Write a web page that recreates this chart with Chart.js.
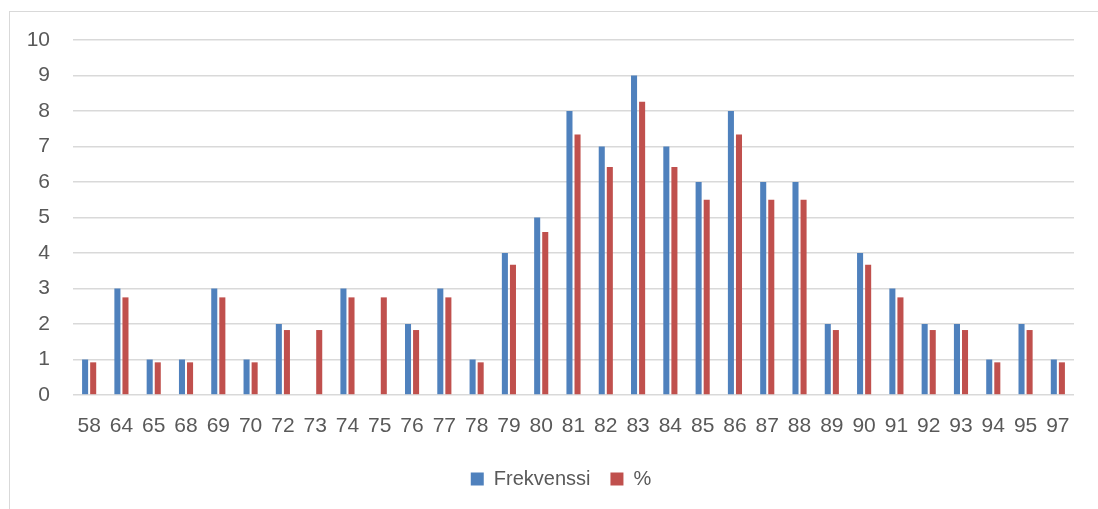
<!DOCTYPE html>
<html>
<head>
<meta charset="utf-8">
<script src="https://cdn.jsdelivr.net/npm/chart.js@4"></script>
<style>
  body { margin: 0; background: #fff; }
  #wrap { position: relative; width: 1098px; height: 509px; overflow: hidden; }
  #frame {
    position: absolute; left: 9px; top: 11px; width: 1200px; height: 600px;
    border: 1px solid #d9d9d9; pointer-events: none;
  }
  canvas { position: absolute; left: 0; top: 0; }
</style>
</head>
<body>
<div id="wrap">
  <canvas id="chart" width="1098" height="509"></canvas>
  <div id="frame"></div>
</div>
<script>
const categories = ['58', '64', '65', '68', '69', '70', '72', '73', '74', '75', '76', '77', '78', '79', '80',
  '81', '82', '83', '84', '85', '86', '87', '88', '89', '90', '91', '92', '93', '94', '95', '97'];

const frekvenssi = [1, 3, 1, 1, 3, 1, 2, null, 3, null, 2, 3, 1, 4, 5,
  8, 7, 9, 7, 6, 8, 6, 6, 2, 4, 3, 2, 2, 1, 2, 1];

const prosentti = [0.92, 2.75, 0.92, 0.92, 2.75, 0.92, 1.83, 1.83, 2.75, 2.75, 1.83, 2.75, 0.92, 3.67, 4.59,
  7.34, 6.42, 8.26, 6.42, 5.50, 7.34, 5.50, 5.50, 1.83, 3.67, 2.75, 1.83, 1.83, 0.92, 1.83, 0.92];

const yTicks = [0, 1, 2, 3, 4, 5, 6, 7, 8, 9, 10];

const textColor = '#595959';
const font = { family: '"Liberation Sans", Arial, sans-serif', size: 21 };

// the legend in the original sits a bit right of the canvas centre (it's inside the chart frame)
const shiftLegend = {
  id: 'shiftLegend',
  afterLayout(chart) {
    const lg = chart.legend;
    const dx = (chart.width / 2 + 12) - (lg.left + lg.right) / 2;
    lg.left += dx;
    lg.right += dx;
  }
};

new Chart(document.getElementById('chart'), {
  type: 'bar',
  data: {
    labels: categories,
    datasets: [
      { label: 'Frekvenssi', data: frekvenssi, backgroundColor: '#4f81bd' },
      { label: '%', data: prosentti, backgroundColor: '#c0504d' }
    ]
  },
  options: {
    responsive: false,
    animation: false,
    layout: { padding: { top: 40, left: 0, right: 24, bottom: 10 } },
    datasets: {
      bar: { categoryPercentage: 0.5, barPercentage: 0.75 }
    },
    scales: {
      x: {
        grid: { display: false, drawTicks: false },
        border: { display: false },
        ticks: { color: textColor, font: font, padding: 19, maxRotation: 0, autoSkip: false },
        afterFit: (s) => { s.height = 54; }
      },
      y: {
        min: 0,
        max: 10,
        afterBuildTicks: (s) => { s.ticks = yTicks.map(v => ({ value: v })); },
        grid: { color: '#d9d9d9', lineWidth: 1.6, drawTicks: false },
        border: { display: false },
        ticks: { color: textColor, font: font, padding: 23 },
        afterFit: (s) => { s.width = 73; }
      }
    },
    plugins: {
      tooltip: { enabled: false },
      legend: {
        position: 'bottom',
        labels: {
          color: textColor,
          font: { family: font.family, size: 20 },
          boxWidth: 13,
          boxHeight: 13,
          padding: 20
        }
      }
    }
  },
  plugins: [shiftLegend]
});
</script>
</body>
</html>
